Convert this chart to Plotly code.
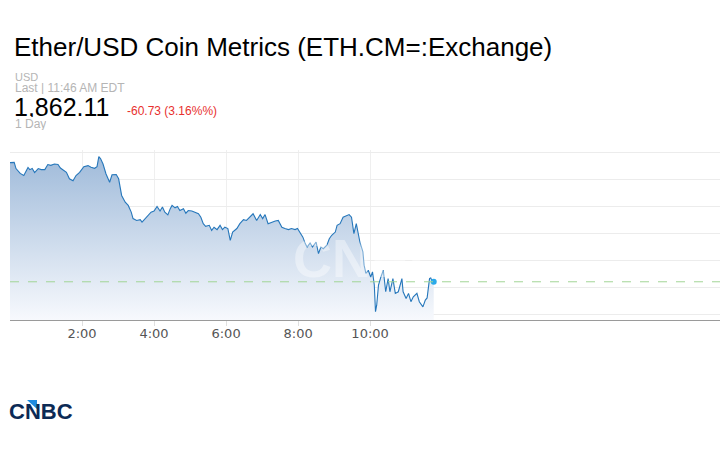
import plotly.graph_objects as go

# 1일 차트 값
day = "2023-06-05"
times = [
    "00:00", "00:07", "00:10", "00:17", "00:23", "00:27", "00:30", "00:33", "00:37", "00:41",
    "00:47", "00:52", "00:58", "01:03", "01:08", "01:14", "01:20", "01:24", "01:28", "01:34",
    "01:39", "01:45", "01:50", "01:56", "02:03", "02:10", "02:15", "02:21", "02:25", "02:28",
    "02:31", "02:35", "02:40", "02:46", "02:50", "02:57", "03:01", "03:06", "03:12", "03:17",
    "03:22", "03:25", "03:31", "03:37", "03:40", "03:45", "03:50", "03:55", "04:00", "04:05",
    "04:10", "04:14", "04:18", "04:23", "04:27", "04:30", "04:35", "04:39", "04:43", "04:49",
    "04:53", "04:57", "05:03", "05:08", "05:14", "05:18", "05:22", "05:26", "05:32", "05:36",
    "05:40", "05:45", "05:50", "05:54", "05:58", "06:03", "06:07", "06:11", "06:18", "06:23",
    "06:29", "06:34", "06:40", "06:45", "06:51", "06:57", "07:01", "07:05", "07:10", "07:16",
    "07:22", "07:27", "07:33", "07:38", "07:44", "07:49", "07:55", "07:59", "08:03", "08:08",
    "08:12", "08:15", "08:20", "08:24", "08:30", "08:34", "08:38", "08:42", "08:48", "08:52",
    "08:56", "09:02", "09:05", "09:10", "09:15", "09:21", "09:25", "09:29", "09:33", "09:37",
    "09:40", "09:43", "09:48", "09:50", "09:53", "09:57", "10:01", "10:04", "10:07", "10:09",
    "10:11", "10:14", "10:18", "10:22", "10:26", "10:30", "10:33", "10:38", "10:42", "10:47",
    "10:53", "10:55", "11:00", "11:04", "11:08", "11:12", "11:18", "11:22", "11:28", "11:32",
    "11:35", "11:39", "11:41", "11:44", "11:46",
]
prices = [
    1906.4, 1906.5, 1904.2, 1902.4, 1901.6, 1903.4, 1904.6, 1903.8, 1904.2, 1902.7,
    1904.2, 1903.8, 1903.8, 1905.7, 1905.4, 1905.9, 1905.7, 1904.4, 1903.7, 1902.8,
    1900.4, 1899.7, 1901.6, 1902.8, 1904.9, 1905.3, 1904.7, 1904.3, 1904.9, 1908.6,
    1907.8, 1905.9, 1902.2, 1899.1, 1901.9, 1902.0, 1900.4, 1894.2, 1891.7, 1890.5,
    1888.0, 1885.6, 1884.9, 1885.2, 1884.3, 1885.6, 1886.8, 1888.0, 1888.4, 1890.1,
    1888.4, 1889.9, 1888.0, 1887.0, 1889.3, 1890.5, 1889.6, 1890.1, 1888.6, 1889.3,
    1887.6, 1888.6, 1888.4, 1888.0, 1887.4, 1886.1, 1883.7, 1882.7, 1883.1, 1881.2,
    1882.4, 1881.5, 1883.1, 1881.5, 1882.4, 1881.9, 1877.5, 1880.6, 1881.9, 1883.7,
    1885.2, 1884.9, 1886.1, 1887.4, 1884.9, 1887.1, 1885.6, 1887.1, 1883.7, 1884.3,
    1884.7, 1884.9, 1882.4, 1881.9, 1881.5, 1881.9, 1881.5, 1881.9, 1880.6, 1878.7,
    1876.3, 1875.0, 1876.5, 1875.0, 1876.9, 1872.6, 1875.0, 1874.4, 1875.7, 1878.1,
    1879.4, 1880.6, 1883.1, 1883.7, 1886.1, 1886.8, 1887.1, 1886.1, 1880.0, 1883.7,
    1879.4, 1876.9, 1873.2, 1868.3, 1865.2, 1866.4, 1863.9, 1865.8, 1860.9, 1851.0,
    1853.4, 1860.9, 1863.9, 1866.4, 1858.4, 1863.3, 1858.4, 1863.3, 1857.8, 1858.4,
    1863.3, 1858.4, 1855.9, 1857.8, 1854.7, 1856.5, 1857.8, 1854.7, 1852.8, 1855.3,
    1856.1, 1863.3, 1863.6, 1861.9, 1862.11,
]
tick_hours = ["02:00", "04:00", "06:00", "08:00", "10:00"]

title = "Ether/USD Coin Metrics (ETH.CM=:Exchange)"
currency = "USD"
last_time = "Last | 11:46 AM EDT"
last_price = 1862.11
change = "-60.73 (3.16%%)"
period = "1 Day"

x = [f"{day} {t}" for t in times]

# 픽셀 -> paper 좌표 (플롯 영역: x 10~720, y 150~320)
def px(xp, yp):
    return (xp - 10) / 710, (320 - yp) / 170

def label(text, xp, yp, size, color, family="Liberation Sans", h=None):
    ax, ay = px(xp, yp)
    d = dict(text=text, x=ax, y=ay, xref="paper", yref="paper",
             xanchor="left", yanchor="middle", showarrow=False, borderpad=0,
             font=dict(family=family, size=size, color=color))
    if h:
        d["height"] = h
    return d

fig = go.Figure()

fig.add_trace(go.Scatter(
    x=x, y=prices, mode="lines",
    line=dict(color="#2677bb", width=1.1),
    fill="tozeroy",
    fillgradient=dict(type="vertical",
                      colorscale=[[0, "#f7f9fd"], [1, "#a0bbda"]],
                      start=1847.9, stop=max(prices)),
    hoverinfo="skip", showlegend=False,
))
fig.add_trace(go.Scatter(
    x=[x[-1]], y=[prices[-1]], mode="markers",
    marker=dict(color="#2aa9ea", size=6),
    hoverinfo="skip", showlegend=False,
))

# 마지막 가격 점선
fig.add_shape(type="line", xref="paper", x0=0, x1=1, yref="y",
              y0=last_price, y1=last_price,
              line=dict(color="#a3d596", width=1, dash="dash"))

# CNBC 로고 삼각형
lx0, ly0 = px(27, 400)
lx1, ly1 = px(37, 409)
fig.add_shape(type="path", xref="paper", yref="paper",
              path=f"M {lx0} {ly0} L {lx1} {ly0} L {lx1} {ly1} Z",
              fillcolor="#1e8ce0", line=dict(width=0))

annotations = [
    label("<b>CNBC</b>", 292, 258, 54, "rgba(255,255,255,0.4)"),
    label(title, 13, 47, 26, "#000"),
    label(currency, 14, 76, 11, "#b5b5b5", h=11),
    label(last_time, 14, 88, 12, "#b5b5b5", h=12),
    label(f"{last_price:,.2f}", 13, 107, 25, "#000", h=20),
    label(change, 126, 111, 12, "#e8302e"),
    label(period, 14, 124, 12, "#b5b5b5", h=12),
    label("<b>CNBC</b>", 8, 411, 22, "#0c2a55"),
]

fig.update_layout(
    width=720, height=450,
    margin=dict(l=10, r=0, t=150, b=130),
    paper_bgcolor="white", plot_bgcolor="white",
    annotations=annotations,
    xaxis=dict(
        type="date",
        range=[f"{day} 00:00", f"{day} 19:43"],
        tickvals=[f"{day} {t}" for t in tick_hours],
        tickformat="%-H:%M",
        showgrid=True, gridcolor="#efefef", gridwidth=1,
        showline=True, linecolor="#9a9a9a", linewidth=1,
        ticks="outside", ticklen=5, tickcolor="#e0e0e0",
        ticklabelstandoff=-4,
        tickfont=dict(family="DejaVu Sans", size=13, color="#555"),
        zeroline=False,
    ),
    yaxis=dict(
        range=[1847.9, 1911.1],
        tick0=1850, dtick=10,
        showgrid=True, gridcolor="#ececec", gridwidth=1,
        showticklabels=False, zeroline=False, showline=False,
    ),
)

fig.write_html("out.html", config={"displayModeBar": False},
               post_script="document.body.style.margin='0';")
